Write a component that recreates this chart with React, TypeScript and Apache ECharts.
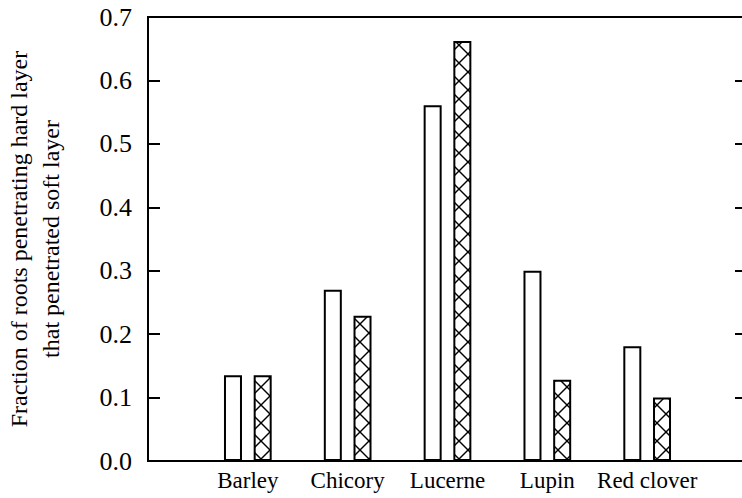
import React, { useEffect, useRef } from "react";
import * as echarts from "echarts";

const categories = ["", "Barley", "Chicory", "Lucerne", "Lupin", "Red clover", ""];
const openValues = [null, 0.135, 0.27, 0.561, 0.3, 0.181, null];
const hatchedValues = [null, 0.135, 0.229, 0.662, 0.128, 0.1, null];
const yTicks = [0, 0.1, 0.2, 0.3, 0.4, 0.5, 0.6, 0.7];

const FONT = "Liberation Serif";

function hatchPattern() {
  const s = 18;
  const svg =
    `<svg xmlns="http://www.w3.org/2000/svg" width="${s}" height="${s}" viewBox="0 0 ${s} ${s}">` +
    `<rect width="${s}" height="${s}" fill="#ffffff"/>` +
    `<line x1="-1" y1="-1" x2="${s + 1}" y2="${s + 1}" stroke="#000" stroke-width="1.4"/>` +
    `<line x1="${s + 1}" y1="-1" x2="-1" y2="${s + 1}" stroke="#000" stroke-width="1.4"/>` +
    `</svg>`;
  return {
    image: "data:image/svg+xml;charset=utf-8," + encodeURIComponent(svg),
    repeat: "repeat",
    imageWidth: s,
    imageHeight: s,
  };
}

export default function App() {
  const ref = useRef<HTMLDivElement>(null);
  useEffect(() => {
    document.body.style.margin = "0";
    const chart = echarts.init(ref.current!, null, { renderer: "svg" });
    const yAxisCommon = {
      type: "value",
      show: true,
      min: 0,
      max: 0.7,
      interval: 0.1,
      splitLine: { show: false },
      axisLine: { show: true, lineStyle: { color: "#000", width: 2 } },
      axisTick: { show: true, inside: true, length: 12, lineStyle: { color: "#000", width: 2 } },
    };
    chart.setOption({
      animation: false,
      backgroundColor: "#ffffff",
      textStyle: { fontFamily: FONT, color: "#000" },
      grid: {
        left: 148,
        top: 17,
        width: 599,
        height: 444,
        containLabel: false,
        outerBoundsMode: "none",
        show: true,
        borderColor: "#000",
        borderWidth: 2,
        backgroundColor: "transparent",
      },
      xAxis: [
        {
          type: "category",
          data: categories,
          boundaryGap: false,
          axisLine: { show: true, onZero: false, lineStyle: { color: "#000", width: 2 } },
          axisTick: { show: false },
          axisLabel: {
            interval: 0,
            color: "#000",
            fontFamily: FONT,
            fontSize: 23,
            margin: 8,
          },
          splitLine: { show: false },
        },
      ],
      yAxis: [
        {
          ...yAxisCommon,
          position: "left",
          name: "Fraction of roots penetrating hard layer\nthat penetrated soft layer",
          nameLocation: "middle",
          nameRotate: 90,
          nameGap: 81,
          nameTextStyle: {
            color: "#000",
            fontFamily: FONT,
            fontSize: 24,
            lineHeight: 32,
          },
          axisLabel: {
            color: "#000",
            fontFamily: FONT,
            fontSize: 26,
            margin: 16,
            formatter: (v: number) => {
              const t = yTicks.find((y) => Math.abs(y - v) < 1e-9);
              return (t !== undefined ? t : v).toFixed(1);
            },
          },
        },
        {
          ...yAxisCommon,
          position: "right",
          axisLabel: { show: false },
        },
      ],
      series: [
        {
          type: "bar",
          data: openValues,
          barWidth: 18,
          barGap: "65%",
          itemStyle: { color: "#ffffff", borderColor: "#000", borderWidth: 2 },
        },
        {
          type: "bar",
          data: hatchedValues,
          barWidth: 18,
          itemStyle: { color: hatchPattern(), borderColor: "#000", borderWidth: 2 },
        },
      ],
    });
    return () => chart.dispose();
  }, []);
  return (
    <div
      ref={ref}
      style={{ position: "absolute", left: 0, top: 0, width: 742, height: 498 }}
    />
  );
}
